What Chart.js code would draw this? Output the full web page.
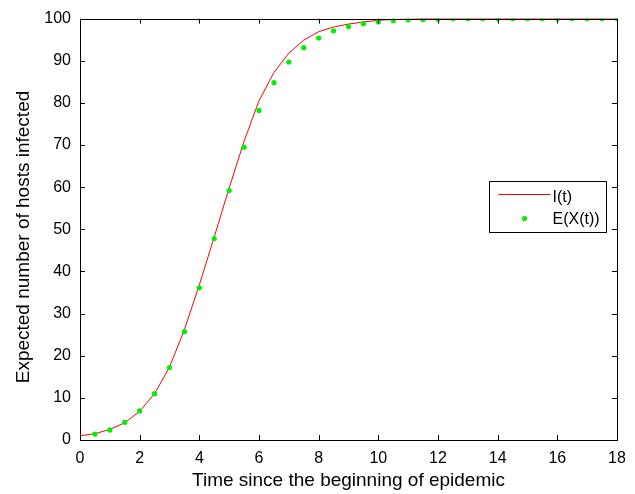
<!DOCTYPE html>
<html>
<head>
<meta charset="utf-8">
<script src="https://cdn.jsdelivr.net/npm/chart.js@4/dist/chart.umd.min.js"></script>
<style>
  html, body { margin: 0; padding: 0; background: #fff; }
  #wrap { width: 635px; height: 494px; }
</style>
</head>
<body>
<div id="wrap"><canvas id="epidemic"></canvas></div>
<script>
// time points and values
const lineTimes = [0, 0.5, 1, 1.5, 2, 2.5, 3, 3.5, 4, 4.5, 5, 5.5, 6, 6.5, 7, 7.5, 8, 8.5, 9,
    9.5, 10, 10.5, 11, 11.5, 12, 12.5, 13, 13.5, 14, 14.5, 15, 15.5, 16, 16.5, 17, 17.5, 18];
const lineValues = [1.0, 1.5, 2.5, 4.1, 6.8, 11.0, 17.3, 26.2, 36.8, 48.2, 59.8, 70.9, 80.5, 87.2, 91.8,
    94.9, 96.9, 98.0, 98.7, 99.2, 99.6, 99.8, 99.9, 100, 100, 100, 100, 100, 100, 100, 100, 100, 100,
    100, 100, 100, 100];

const dotTimes = [0.5, 1, 1.5, 2, 2.5, 3, 3.5, 4, 4.5, 5, 5.5, 6, 6.5, 7, 7.5, 8, 8.5, 9, 9.5,
    10, 10.5, 11, 11.5, 12, 12.5, 13, 13.5, 14, 14.5, 15, 15.5, 16, 16.5, 17, 17.5, 18];
const dotValues = [1.4, 2.4, 4.2, 6.9, 11.0, 17.2, 25.7, 36.1, 47.8, 59.2, 69.5, 78.2, 84.8, 89.7,
    93.1, 95.4, 97.1, 98.1, 98.8, 99.2, 99.5, 99.7, 99.8, 99.9, 100, 100, 100, 100, 100, 100, 100,
    100, 100, 100, 100, 100];

const xTicks = [0, 2, 4, 6, 8, 10, 12, 14, 16, 18];
const yTicks = [0, 10, 20, 30, 40, 50, 60, 70, 80, 90, 100];
const seriesNames = ['I(t)', 'E(X(t))'];
const yTitle = 'Expected number of hosts infected';

const FONT = 'Liberation Sans, Arial, Helvetica, sans-serif';

// box around the plot, inward ticks on all four sides, legend inside, y title
const matlabFrame = {
    id: 'matlabFrame',
    afterDatasetsDraw(chart) {
        const ctx = chart.ctx;
        const a = chart.chartArea;
        const xs = chart.scales.x, ys = chart.scales.y;
        ctx.save();
        ctx.strokeStyle = '#000';
        ctx.lineWidth = 1;
        ctx.strokeRect(Math.round(a.left) + 0.5, Math.round(a.top) + 0.5,
            Math.round(a.right - a.left), Math.round(a.bottom - a.top));
        const tl = 5;
        ctx.beginPath();
        xTicks.forEach(v => {
            const px = Math.round(xs.getPixelForValue(v)) + 0.5;
            ctx.moveTo(px, a.bottom); ctx.lineTo(px, a.bottom - tl);
            ctx.moveTo(px, a.top); ctx.lineTo(px, a.top + tl);
        });
        yTicks.forEach(v => {
            const py = Math.round(ys.getPixelForValue(v)) + 0.5;
            ctx.moveTo(a.left, py); ctx.lineTo(a.left + tl, py);
            ctx.moveTo(a.right, py); ctx.lineTo(a.right - tl, py);
        });
        ctx.stroke();

        // legend
        const bx = 489.5, by = 181.5, bw = 117, bh = 51;
        ctx.fillStyle = '#fff';
        ctx.fillRect(bx, by, bw, bh);
        ctx.strokeRect(bx, by, bw, bh);
        const ds = chart.data.datasets;
        ctx.strokeStyle = ds[0].borderColor;
        ctx.beginPath();
        ctx.moveTo(bx + 9, by + 13); ctx.lineTo(bx + 61, by + 13);
        ctx.stroke();
        ctx.fillStyle = ds[1].backgroundColor;
        ctx.beginPath();
        ctx.arc(bx + 35, by + 37, 2.6, 0, Math.PI * 2);
        ctx.fill();
        ctx.fillStyle = '#000';
        ctx.font = '16px ' + FONT;
        ctx.textBaseline = 'middle';
        ctx.textAlign = 'left';
        ctx.fillText(ds[0].label, bx + 63, by + 16);
        ctx.fillText(ds[1].label, bx + 63, by + 38);

        // y axis title
        ctx.translate(24, 237);
        ctx.rotate(-Math.PI / 2);
        ctx.textAlign = 'center';
        ctx.font = '19px ' + FONT;
        ctx.fillText(yTitle, 0, 0);
        ctx.restore();
    }
};

const ctx = document.getElementById('epidemic').getContext('2d');
new Chart(ctx, {
    type: 'scatter',
    data: {
        datasets: [{
            label: seriesNames[0],
            data: lineTimes.map((t, i) => ({x: t, y: lineValues[i]})),
            showLine: true,
            borderColor: '#ff0000',
            backgroundColor: '#ff0000',
            borderWidth: 1,
            pointRadius: 0,
            order: 2
        }, {
            label: seriesNames[1],
            data: dotTimes.map((t, i) => ({x: t, y: dotValues[i]})),
            showLine: false,
            backgroundColor: '#00f000',
            borderColor: '#00f000',
            borderWidth: 0,
            pointRadius: 2.6,
            order: 1
        }]
    },
    options: {
        responsive: true,
        maintainAspectRatio: false,
        animation: false,
        layout: { padding: { top: 17, right: 18, left: 0, bottom: 0 } },
        plugins: {
            legend: { display: false },
            tooltip: { enabled: false }
        },
        scales: {
            x: {
                type: 'linear',
                min: 0,
                max: 18,
                afterBuildTicks: s => { s.ticks = xTicks.map(v => ({value: v})); },
                afterFit: s => { s.height = 54; },
                grid: { display: false, drawTicks: false },
                border: { display: false },
                ticks: { color: '#000', padding: 9, font: { family: FONT, size: 16 }, maxRotation: 0 },
                title: {
                    display: true,
                    text: 'Time since the beginning of epidemic',
                    color: '#000',
                    font: { family: FONT, size: 19 },
                    padding: { top: 0, bottom: 2 }
                }
            },
            y: {
                type: 'linear',
                min: 0,
                max: 100,
                afterBuildTicks: s => { s.ticks = yTicks.map(v => ({value: v})); },
                afterFit: s => { s.width = 80; },
                grid: { display: false, drawTicks: false },
                border: { display: false },
                ticks: { color: '#000', padding: 9, font: { family: FONT, size: 16 } },
                title: { display: false }
            }
        }
    },
    plugins: [matlabFrame]
});
</script>
</body>
</html>
